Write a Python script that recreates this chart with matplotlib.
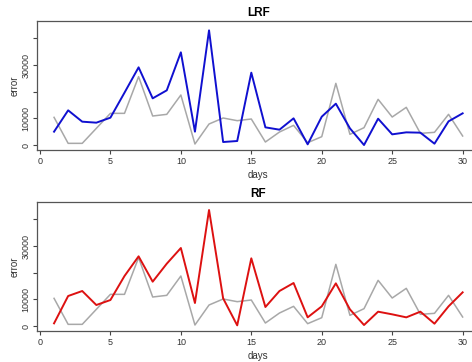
import matplotlib
matplotlib.use("Agg")
import matplotlib.pyplot as plt

# daily error
days = list(range(1, 31))
baseline = [10375, 625, 625, 6250, 11875, 11875, 25625, 10875, 11500, 18750,
            375, 7875, 10125, 9125, 9750, 1125, 4875, 7375, 875, 3125,
            23125, 4000, 6500, 17125, 10500, 14125, 4375, 4750, 11500, 3375]
lrf = [5000, 13000, 8750, 8375, 10250, 19625, 29125, 17500, 20500, 34750,
       5000, 43000, 1125, 1500, 27125, 6625, 5750, 10000, 250, 10625,
       15500, 6250, 0, 9875, 4000, 4750, 4625, 500, 8875, 11875]
rf = [1000, 11250, 13125, 7875, 9750, 18750, 26125, 16625, 23375, 29250,
      8625, 43500, 10375, 250, 25375, 7125, 13125, 16125, 3250, 7375,
      16000, 6250, 375, 5375, 4375, 3250, 5375, 875, 7375, 12625]

x_ticks = [0, 5, 10, 15, 20, 25, 30]
y_ticks = [0, 10000, 20000, 30000, 40000]
y_labels = ["0", "10000", "", "30000", ""]

plt.rcParams["font.family"] = ["Liberation Sans", "DejaVu Sans"]
fig = plt.figure(figsize=(4.72, 3.62), dpi=100)

panels = [("LRF", lrf, "#1010d0", 0.5856), ("RF", rf, "#dd1111", 0.0856)]
for title, series, color, bottom in panels:
    ax = fig.add_axes([0.079, bottom, 0.937, 0.3564])
    ax.plot(days, baseline, color="#a8a8a8", lw=1.1)
    ax.plot(days, series, color=color, lw=1.4)
    ax.set_xlim(-0.19, 31.2)
    ax.set_ylim(-1875, 46500)
    ax.set_xticks(x_ticks)
    ax.set_yticks(y_ticks)
    ax.set_yticklabels(y_labels, rotation=90, va="center")
    ax.tick_params(labelsize=6.5, colors="#444", labelcolor="#333", length=3, width=0.8, pad=2)
    for s in ax.spines.values():
        s.set_color("#555")
        s.set_linewidth(0.9)
    ax.set_title(title, fontsize=8.5, fontweight="bold", pad=3.5)
    ax.set_xlabel("days", fontsize=7, color="#333", labelpad=3)
    ax.set_ylabel("error", fontsize=7, color="#333", labelpad=1.5)

fig.savefig("out.png", dpi=100)
